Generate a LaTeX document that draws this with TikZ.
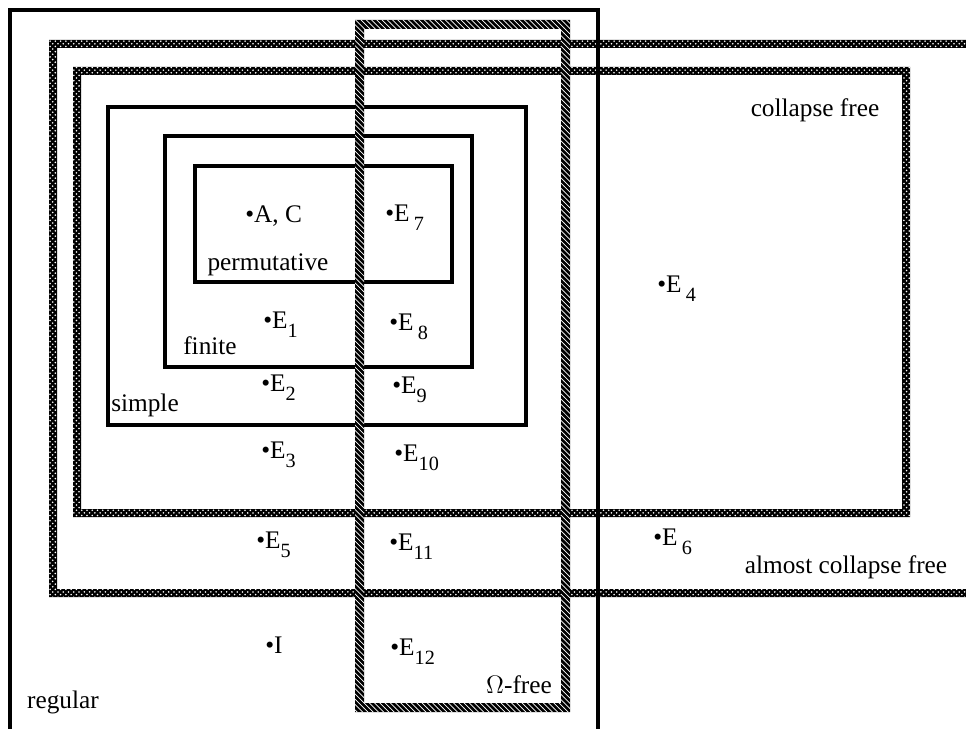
\documentclass[tikz,border=0pt]{standalone}
\usepackage{fontspec}
\setmainfont{Liberation Serif}
\usetikzlibrary{patterns}
\newcommand{\lowsub}[1]{\raisebox{-0.8ex}{\fontsize{11.5}{13}\selectfont #1}}
\tikzset{
  lbl/.style={font=\fontsize{14.4}{17}\selectfont, inner sep=0pt},
  elem/.style={lbl, anchor=west},
  setbox/.style={draw=black, line width=2.3pt},
  checkband/.style={
    fill=black, even odd rule,
    postaction={pattern=crosshatch dots, pattern color=white, even odd rule},
  },
  hatchband/.style={
    fill=black, even odd rule,
    postaction={pattern=north west lines, pattern color=white, even odd rule},
  },
}

\begin{document}
\begin{tikzpicture}[x=0.02cm, y=-0.02cm]
\useasboundingbox (0,0) rectangle (966,729);
\clip (0,0) rectangle (966,729);

%% ── grey bands ────────────────────────────────────────────
% almost collapse free (open to the right)
\fill[checkband] (49,40) rectangle (1000,597) (57,48) rectangle (1000,589);
% collapse free
\fill[checkband] (73,67) rectangle (910,517) (81,75) rectangle (902,509);

%% ── plain boxes ───────────────────────────────────────────
\draw[setbox] (10,760) |- (598,10) -- (598,760);   % regular
\draw[setbox] (108,107) rectangle (526,425);        % simple
\draw[setbox] (165,136) rectangle (472,367);        % finite
\draw[setbox] (195,166) rectangle (452,282);        % permutative

%% ── Omega-free band ───────────────────────────────────────
\fill[hatchband] (355,20) rectangle (570,712) (364,29) rectangle (561,703);

%% ── set names ─────────────────────────────────────────────
\node[lbl] (cfree)   at (815,110) {collapse free};
\node[lbl] (acfree)  at (846,567) {almost collapse free};
\node[lbl] (perm)    at (268,265) {permutative};
\node[lbl] (finite)  at (210,346) {finite};
\node[lbl] (simple)  at (145,405) {simple};
\node[lbl] (omega)   at (519,685) {$\Omega$-free};
\node[lbl] (regular) at (63,702)  {regular};

%% ── elements ──────────────────────────────────────────────
\node[elem] (ac)  at (245,216) {\textbullet A, C};
\node[elem] (e7)  at (385,218) {\textbullet E\,\lowsub{7}};
\node[elem] (e4)  at (657,289) {\textbullet E\,\lowsub{4}};
\node[elem] (e1)  at (263,325) {\textbullet E\lowsub{1}};
\node[elem] (e8)  at (389,327) {\textbullet E\,\lowsub{8}};
\node[elem] (e2)  at (261,388) {\textbullet E\lowsub{2}};
\node[elem] (e9)  at (392,390) {\textbullet E\lowsub{9}};
\node[elem] (e3)  at (261,455) {\textbullet E\lowsub{3}};
\node[elem] (e10) at (394,458) {\textbullet E\lowsub{10}};
\node[elem] (e5)  at (256,545) {\textbullet E\lowsub{5}};
\node[elem] (e11) at (389,547) {\textbullet E\lowsub{11}};
\node[elem] (e6)  at (653,542) {\textbullet E\,\lowsub{6}};
\node[elem] (ei)  at (265,645) {\textbullet I};
\node[elem] (e12) at (390,652) {\textbullet E\lowsub{12}};

\end{tikzpicture}
\end{document}
